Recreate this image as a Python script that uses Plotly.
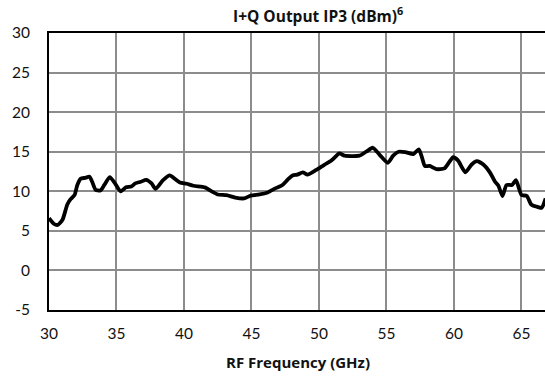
import plotly.graph_objects as go

freq_ghz = [30.0, 30.35, 30.65, 31.0, 31.35, 31.6, 31.9, 32.1, 32.35, 32.7, 33.0, 33.2, 33.45, 33.8,
            34.1, 34.5, 34.85, 35.3, 35.7, 36.1, 36.4, 36.8, 37.2, 37.6, 37.9, 38.45, 38.95, 39.3,
            39.7, 40.2, 40.7, 41.55, 42.05, 42.5, 43.15, 43.8, 44.45, 44.95, 45.6, 46.2, 46.8,
            47.3, 47.7, 48.05, 48.4, 48.8, 49.15, 49.8, 50.4, 50.9, 51.25, 51.5, 51.9, 53.0, 53.5,
            54.0, 54.5, 55.1, 55.5, 55.9, 56.4, 57.0, 57.4, 57.65, 57.85, 58.2, 58.7, 59.3, 59.7,
            59.95, 60.3, 60.85, 61.3, 61.7, 62.2, 62.7, 63.05, 63.3, 63.6, 63.9, 64.3, 64.6, 65.0,
            65.4, 65.75, 66.25, 66.5, 66.8]
oip3_dbm = [6.6, 5.9, 5.75, 6.4, 8.3, 9.0, 9.55, 10.8, 11.6, 11.7, 11.85, 11.2, 10.2, 10.1,
            10.8, 11.8, 11.1, 10.0, 10.5, 10.6, 11.0, 11.2, 11.45, 11.0, 10.3, 11.4, 12.0, 11.6,
            11.1, 10.95, 10.7, 10.5, 10.0, 9.6, 9.5, 9.2, 9.1, 9.45, 9.6, 9.85, 10.4,
            10.8, 11.5, 12.0, 12.1, 12.4, 12.1, 12.7, 13.35, 13.85, 14.4, 14.8, 14.5, 14.5, 15.0,
            15.5, 14.6, 13.6, 14.5, 15.0, 14.95, 14.7, 15.3, 14.2, 13.2, 13.2, 12.8, 12.9, 13.8,
            14.3, 13.9, 12.4, 13.35, 13.8, 13.35, 12.3, 11.2, 10.7, 9.4, 10.8, 10.8, 11.4, 9.55,
            9.4, 8.3, 8.0, 7.9, 9.1]

x_ticks = [30, 35, 40, 45, 50, 55, 60, 65]
y_ticks = [-5, 0, 5, 10, 15, 20, 25, 30]

chart_title = "I+Q Output IP3 (dBm)<sup>6</sup>"
x_title = "RF Frequency (GHz)"

TICK_FONT = "Lato"
TITLE_FONT = "Open Sans"
TXT = "#111111"

fig = go.Figure()
fig.add_trace(go.Scatter(
    x=freq_ghz, y=oip3_dbm, mode="lines",
    line=dict(color="black", width=3.8, shape="spline", smoothing=0.6),
    hoverinfo="skip", showlegend=False,
))

fig.update_layout(
    width=545, height=381,
    margin=dict(l=49, r=0, t=33, b=71),
    paper_bgcolor="white", plot_bgcolor="white",
    font=dict(family=TICK_FONT, size=15, color=TXT),
    xaxis=dict(
        range=[30, 66.75], tickvals=x_ticks, ticktext=[str(v) for v in x_ticks],
        showgrid=True, gridcolor="#8c8c8c", gridwidth=1.5,
        showline=True, linecolor="black", linewidth=2, mirror=True,
        ticks="outside", ticklen=0, ticklabelstandoff=8, zeroline=False,
        tickfont=dict(family=TICK_FONT, size=15.5, color=TXT),
    ),
    yaxis=dict(
        range=[-5, 30], tickvals=y_ticks, ticktext=[str(v) for v in y_ticks],
        showgrid=True, gridcolor="#8c8c8c", gridwidth=1.5,
        showline=True, linecolor="black", linewidth=2, mirror=False,
        ticks="outside", ticklen=0, ticklabelstandoff=14, zeroline=False,
        tickfont=dict(family=TICK_FONT, size=15.5, color=TXT),
    ),
    annotations=[
        dict(text=chart_title, xref="paper", yref="paper", x=0.543, y=1.064,
             xanchor="center", yanchor="middle", showarrow=False,
             font=dict(family=TITLE_FONT, size=15.5, color=TXT, weight="bold")),
        dict(text=x_title, xref="paper", yref="paper", x=0.502, y=-0.188,
             xanchor="center", yanchor="middle", showarrow=False,
             font=dict(family=TITLE_FONT, size=15, color=TXT, weight="bold")),
    ],
)

fig.write_html("out.html")
